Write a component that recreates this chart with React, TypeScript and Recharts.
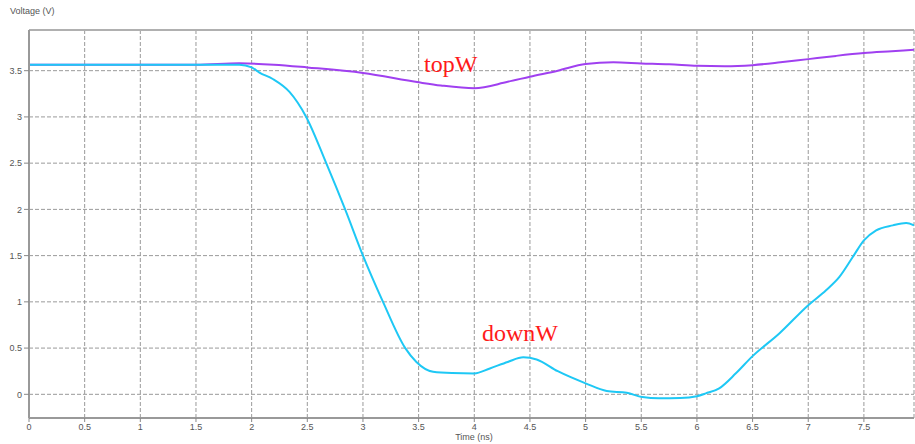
import { LineChart, Line, XAxis, YAxis, CartesianGrid, ReferenceLine } from 'recharts';

// Transient simulation: time (ns) vs voltage (V)
const topTime = [0, 1.5, 1.89, 2.2, 2.5, 3.0, 3.5, 3.7, 4.0, 4.3, 4.5, 4.75, 5.0, 5.25, 5.5, 5.75, 6.0, 6.25, 6.5, 6.75, 7.0, 7.25, 7.5, 7.75, 7.95];
const topVolt = [3.565, 3.565, 3.58, 3.565, 3.535, 3.475, 3.374, 3.34, 3.31, 3.38, 3.435, 3.5, 3.572, 3.59, 3.579, 3.57, 3.553, 3.548, 3.56, 3.59, 3.625, 3.66, 3.69, 3.71, 3.726];

const downTime = [0, 1.5, 1.89, 2.0, 2.07, 2.19, 2.34, 2.49, 2.67, 2.84, 3.0, 3.18, 3.38, 3.48, 3.63, 3.8, 4.0, 4.14, 4.3, 4.44, 4.56, 4.75, 5.0, 5.19, 5.37, 5.51, 5.66, 5.85, 6.0, 6.08, 6.2, 6.35, 6.5, 6.74, 7.0, 7.16, 7.28, 7.4, 7.5, 7.61, 7.76, 7.88, 7.95];
const downVolt = [3.565, 3.565, 3.565, 3.535, 3.48, 3.41, 3.27, 3.0, 2.5, 2.0, 1.5, 1.0, 0.5, 0.35, 0.244, 0.23, 0.226, 0.28, 0.35, 0.4, 0.377, 0.25, 0.119, 0.036, 0.017, -0.03, -0.043, -0.04, -0.02, 0.01, 0.065, 0.227, 0.413, 0.658, 0.964, 1.126, 1.27, 1.485, 1.665, 1.773, 1.827, 1.852, 1.827];

const xTicks = [0, 0.5, 1, 1.5, 2, 2.5, 3, 3.5, 4, 4.5, 5, 5.5, 6, 6.5, 7, 7.5];
const yTicks = [0, 0.5, 1, 1.5, 2, 2.5, 3, 3.5];
const X_MAX = 7.95;
const Y_MIN = -0.256;
const Y_MAX = 3.94;

const topData = topTime.map((t, i) => ({ t, v: topVolt[i] }));
const downData = downTime.map((t, i) => ({ t, v: downVolt[i] }));

const tickStyle = { fontSize: 9, fill: '#555', fontFamily: 'Liberation Sans, Arial, sans-serif' };
const labelStyle = { position: 'absolute' as const, color: '#ff1a1a', fontFamily: 'Liberation Serif, Times New Roman, serif', fontSize: 24, lineHeight: 1 };

export default function App() {
  return (
    <div style={{ position: 'absolute', left: 0, top: 0, width: 915, height: 444, background: '#fff' }}>
      <LineChart width={915} height={444} data={downData} margin={{ top: 30, right: 1, bottom: 6, left: 0 }}>
        <CartesianGrid stroke="#9a9a9a" strokeDasharray="4 2" ticks={undefined} />
        <XAxis
          dataKey="t" type="number" domain={[0, X_MAX]} ticks={xTicks} allowDataOverflow
          height={20} tickSize={4} tickMargin={2} tick={tickStyle}
          stroke="#999" strokeWidth={2} tickLine={{ stroke: '#888', strokeWidth: 1 }}
        />
        <YAxis
          type="number" domain={[Y_MIN, Y_MAX]} ticks={yTicks} allowDataOverflow
          width={29} tickSize={5} tickMargin={2} tick={tickStyle}
          stroke="#999" strokeWidth={2} tickLine={{ stroke: '#888', strokeWidth: 1 }}
        />
        <ReferenceLine y={Y_MAX} stroke="#b0b0b0" strokeWidth={2} />
        <Line data={topData} dataKey="v" type="monotone" stroke="#a040f0" strokeWidth={2} dot={false} isAnimationActive={false} />
        <Line data={downData} dataKey="v" type="monotone" stroke="#1ec8f5" strokeWidth={2} dot={false} isAnimationActive={false} />
      </LineChart>
      <span style={{ position: 'absolute', left: 10, top: 6, fontSize: 9, color: '#555', fontFamily: 'Liberation Sans, Arial, sans-serif' }}>Voltage (V)</span>
      <span style={{ position: 'absolute', left: 0, width: 948, top: 432, textAlign: 'center', fontSize: 9, color: '#555', fontFamily: 'Liberation Sans, Arial, sans-serif' }}>Time (ns)</span>
      <span style={{ ...labelStyle, left: 424, top: 52 }}>topW</span>
      <span style={{ ...labelStyle, left: 482, top: 321 }}>downW</span>
    </div>
  );
}
